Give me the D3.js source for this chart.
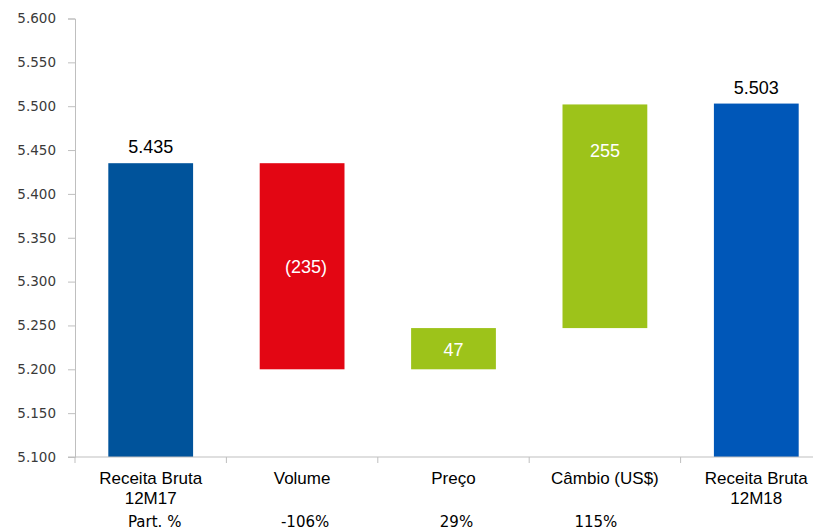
<!DOCTYPE html>
<html><head><meta charset="utf-8">
<script src="https://cdn.jsdelivr.net/npm/d3@7"></script>
<style>body{margin:0;background:#fff;overflow:hidden}svg{display:block}</style>
</head><body>
<svg id="c" width="813" height="530"></svg>
<script>
const categories = [["Receita Bruta","12M17"],["Volume"],["Preço"],["Câmbio (US$)"],["Receita Bruta","12M18"]];
const values = [5435, -235, 47, 255, 5503];
const kinds = ["total","delta","delta","delta","total"];
const labels = ["5.435","(235)","47","255","5.503"];
const partLabels = ["Part. %","-106%","29%","115%",""];
const yTicks = [5100,5150,5200,5250,5300,5350,5400,5450,5500,5550,5600];
const colors = ["#00539B","#E30613","#9DC31A","#9DC31A","#0057B8"];

const svg = d3.select("#c");
const yMin = 5100;
const y = d3.scaleLinear().domain([5100,5600]).range([457,18.5]);
const x = d3.scaleBand().domain(d3.range(5)).range([75,832]).paddingInner(0.44).paddingOuter(0.22);

// compute waterfall spans
let run = 0;
const bars = values.map((v,i)=>{
  let lo, hi;
  if (kinds[i]==="total"){ lo=yMin; hi=v; run=v; }
  else { const s=run; run=s+v; lo=Math.min(s,run); hi=Math.max(s,run); }
  return {i, lo, hi, v};
});

// y axis
const fmt = d=>d3.format(",")(d).replace(",",".");
const yAxis = svg.append("g").attr("transform","translate(75,0)")
  .call(d3.axisLeft(y).tickValues(yTicks).tickSize(7).tickPadding(12).tickFormat(fmt));
yAxis.select(".domain").attr("stroke","#BFBFBF");
yAxis.selectAll(".tick line").attr("stroke","#BFBFBF");
yAxis.selectAll(".tick text").attr("fill","#3a3a3a").style("font-family","'DejaVu Sans'").style("font-size","13.5px");

// bars
svg.append("g").selectAll("rect").data(bars).join("rect")
  .attr("x",d=>x(d.i)).attr("width",x.bandwidth())
  .attr("y",d=>y(d.hi)).attr("height",d=>y(d.lo)-y(d.hi))
  .attr("fill",d=>colors[d.i]);

// x axis line + ticks at band boundaries
const xg = svg.append("g");
xg.append("line").attr("x1",68).attr("x2",832).attr("y1",y(yMin)).attr("y2",y(yMin)).attr("stroke","#BFBFBF");
xg.selectAll("line.t").data(d3.range(6)).join("line").attr("class","t")
  .attr("x1",d=>75+d*x.step()).attr("x2",d=>75+d*x.step())
  .attr("y1",y(yMin)).attr("y2",y(yMin)+6).attr("stroke","#BFBFBF");

// value labels
const cx = i=>x(i)+x.bandwidth()/2;
svg.append("g").selectAll("text").data(bars).join("text")
  .attr("x",d=>cx(d.i)+(d.i===1?4:0))
  .attr("y",d=>{
    if (kinds[d.i]==="total") return y(d.hi)-10;
    if (d.i===3) return y(d.hi)+53;
    return (y(d.lo)+y(d.hi))/2+7;
  })
  .attr("text-anchor","middle")
  .attr("fill",d=>kinds[d.i]==="total"?"#000":"#fff")
  .style("font-family","'Liberation Sans', Arial, sans-serif").style("font-size","18px")
  .text(d=>labels[d.i]);

// category labels
const cg = svg.append("g").selectAll("text").data(categories).join("text")
  .attr("text-anchor","middle")
  .style("font-family","'Liberation Sans', Arial, sans-serif").style("font-size","17px").attr("fill","#000");
cg.each(function(lines,i){
  const t = d3.select(this);
  lines.forEach((l,j)=>t.append("tspan").attr("x",cx(i)).attr("y",484+j*20).text(l));
});

// Part. % row
svg.append("g").selectAll("text").data(partLabels).join("text")
  .attr("x",(d,i)=>i===0?cx(0)+4:(i===3?cx(3)-9:cx(i)+3))
  .attr("y",527)
  .attr("text-anchor","middle")
  .style("font-family","'DejaVu Sans', Verdana, sans-serif").style("font-size","15px").attr("fill","#000")
  .text(d=>d);
</script>
</body></html>
